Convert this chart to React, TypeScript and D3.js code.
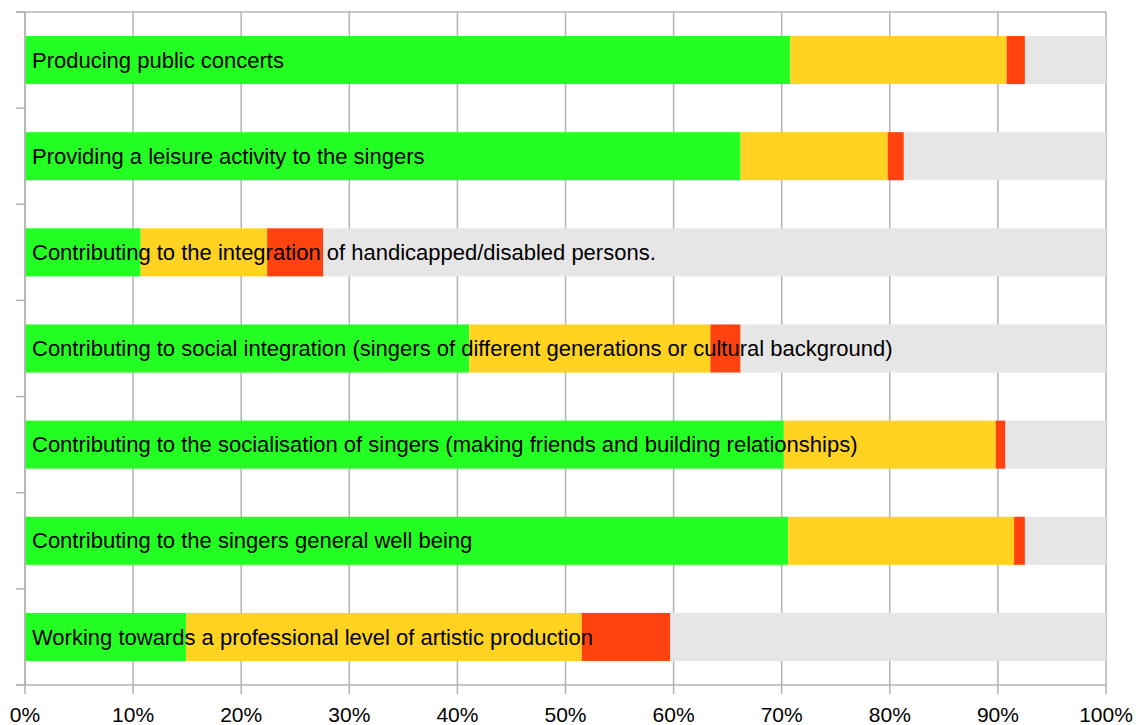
import React from "react";
import * as d3 from "d3";

const categories = [
  "Producing public concerts",
  "Providing a leisure activity to the singers",
  "Contributing to the integration of handicapped/disabled persons.",
  "Contributing to social integration (singers of different generations or cultural background)",
  "Contributing to the socialisation of singers (making friends and building relationships)",
  "Contributing to the singers general well being",
  "Working towards a professional level of artistic production",
];
const green = [70.8, 66.2, 10.7, 41.1, 70.2, 70.6, 14.9];
const yellow = [20.0, 13.6, 11.7, 22.3, 19.6, 20.9, 36.6];
const red = [1.7, 1.5, 5.2, 2.8, 0.9, 1.0, 8.2];
const gray = categories.map((_, i) => 100 - green[i] - yellow[i] - red[i]);
const seriesColors = ["#23ff23", "#ffd320", "#ff420e", "#e6e6e6"];
const xTicks = [0, 10, 20, 30, 40, 50, 60, 70, 80, 90, 100];

export default function App() {
  const W = 1140, H = 725;
  const left = 25, right = 1106, top = 12, bottom = 685;
  const x = d3.scaleLinear().domain([0, 100]).range([left, right]);
  const y = d3.scaleBand<number>().domain(categories.map((_, i) => i)).range([top, bottom]).paddingInner(0.5).paddingOuter(0.25);
  const rows = categories.map((c, i) => ({ c, vals: [green[i], yellow[i], red[i], gray[i]] }));
  const boundaries = d3.range(categories.length + 1).map((i) => top + (i * (bottom - top)) / categories.length);
  const font = "'Liberation Sans', Arial, sans-serif";
  return (
    <svg width={W} height={H} style={{ position: "absolute", left: 0, top: 0, background: "#fff" }}>
      {xTicks.map((t) => (
        <line key={"g" + t} x1={x(t)} x2={x(t)} y1={top} y2={bottom + 9} stroke="#b3b3b3" strokeWidth={1.5} />
      ))}
      <line x1={left - 9} x2={right} y1={top} y2={top} stroke="#b3b3b3" strokeWidth={1.5} />
      {rows.map((r, i) => {
        let acc = 0;
        return (
          <g key={i}>
            {r.vals.map((v, j) => {
              const x0 = acc;
              acc += v;
              return (
                <rect key={j} x={x(x0)} y={y(i)} width={x(acc) - x(x0)} height={y.bandwidth()} fill={seriesColors[j]} />
              );
            })}
          </g>
        );
      })}
      {rows.map((r, i) => (
        <text key={"t" + i} x={32} y={(y(i) as number) + y.bandwidth() / 2} dy="0.35em" fontFamily={font} fontSize={22} fill="#000">
          {r.c}
        </text>
      ))}
      <line x1={left} x2={left} y1={top} y2={bottom} stroke="#b3b3b3" strokeWidth={1.5} />
      {boundaries.map((b, i) => (
        <line key={"yt" + i} x1={left - 9} x2={left} y1={b} y2={b} stroke="#b3b3b3" strokeWidth={1.5} />
      ))}
      <line x1={left - 9} x2={right} y1={bottom} y2={bottom} stroke="#b3b3b3" strokeWidth={1.5} />
      {xTicks.map((t) => (
        <text key={"l" + t} x={x(t)} y={722} textAnchor="middle" fontFamily={font} fontSize={21} fill="#000">
          {t}%
        </text>
      ))}
    </svg>
  );
}
